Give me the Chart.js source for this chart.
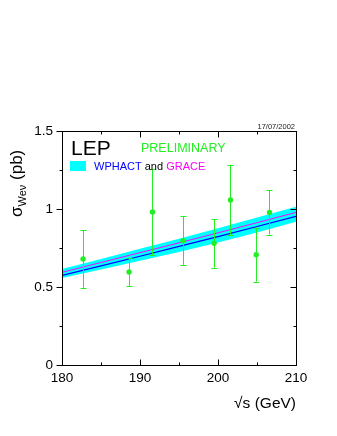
<!DOCTYPE html>
<html>
<head>
<meta charset="utf-8">
<script src="https://cdn.jsdelivr.net/npm/chart.js@4"></script>
<style>
  html, body { margin: 0; padding: 0; background: #fff; }
  #wrap { width: 337px; height: 436px; position: relative; }
</style>
</head>
<body>
<div id="wrap"><canvas id="chart"></canvas></div>
<script>
// LEP combined single-W cross section
const energies = [182.7, 188.6, 191.6, 195.5, 199.5, 201.6, 204.9, 206.6]
const sigma = [0.68, 0.596, 0.981, 0.797, 0.78, 1.058, 0.707, 0.978]
const sigmaErr = [0.185, 0.09, 0.275, 0.155, 0.156, 0.226, 0.173, 0.142]

// theory predictions
const theoryE = [180, 185, 190, 195, 200, 205, 210]
const wphact = [0.574, 0.635, 0.697, 0.76, 0.823, 0.888, 0.953]
const grace = [0.594, 0.657, 0.72, 0.783, 0.847, 0.912, 0.978]
const bandHigh = [0.615, 0.68, 0.745, 0.81, 0.876, 0.945, 1.015]
const bandLow = [0.557, 0.612, 0.668, 0.725, 0.785, 0.85, 0.918]

const xTicks = [180, 190, 200, 210]
const yTicks = [0, 0.5, 1, 1.5]
const yTickLabels = ['0', '0.5', '1', '1.5']

const FONT = "'Liberation Sans', Arial, Helvetica, sans-serif"
const GREEN = '#22ee22'

const pts = (xs, ys) => xs.map((x, i) => ({ x: x, y: ys[i] }))

const errorBars = {
  id: 'errorBars',
  afterDatasetsDraw(chart) {
    const { ctx, scales: { x, y } } = chart
    ctx.save()
    ctx.strokeStyle = GREEN
    ctx.lineWidth = 1
    energies.forEach((e, i) => {
      const px = Math.round(x.getPixelForValue(e)) + 0.5
      const top = y.getPixelForValue(sigma[i] + sigmaErr[i])
      const bot = y.getPixelForValue(sigma[i] - sigmaErr[i])
      ctx.beginPath()
      ctx.moveTo(px, top); ctx.lineTo(px, bot)
      ctx.moveTo(px - 3, Math.round(top) + 0.5); ctx.lineTo(px + 3, Math.round(top) + 0.5)
      ctx.moveTo(px - 3, Math.round(bot) + 0.5); ctx.lineTo(px + 3, Math.round(bot) + 0.5)
      ctx.stroke()
    })
    ctx.restore()
  }
}

const decorations = {
  id: 'decorations',
  afterDraw(chart) {
    const { ctx, chartArea: a, scales: { x, y } } = chart
    ctx.save()
    // frame
    ctx.strokeStyle = '#000'
    ctx.lineWidth = 1
    const L = Math.round(a.left) + 0.5, R = Math.round(a.right) + 0.5
    const T = Math.round(a.top) + 0.5, B = Math.round(a.bottom) + 0.5
    ctx.strokeRect(L, T, R - L, B - T)

    // ticks
    ctx.beginPath()
    for (let v = 180; v <= 210; v += 5) {
      const px = Math.round(x.getPixelForValue(v)) + 0.5
      const len = v % 10 === 0 ? 6 : 3
      ctx.moveTo(px, B); ctx.lineTo(px, B - len)
      ctx.moveTo(px, T); ctx.lineTo(px, T + len)
    }
    for (let v = 0; v <= 1.5001; v += 0.25) {
      const py = Math.round(y.getPixelForValue(v)) + 0.5
      const len = Math.abs(v * 2 - Math.round(v * 2)) < 1e-6 ? 6 : 3
      ctx.moveTo(L, py); ctx.lineTo(L - len, py)
      ctx.moveTo(R, py); ctx.lineTo(R - len, py)
    }
    ctx.stroke()

    // date stamp
    ctx.fillStyle = '#222'
    ctx.font = '7.5px ' + FONT
    ctx.textAlign = 'right'
    ctx.textBaseline = 'alphabetic'
    ctx.fillText('17/07/2002', 295, 129)

    // LEP / PRELIMINARY
    ctx.textAlign = 'left'
    ctx.fillStyle = '#000'
    ctx.font = '21px ' + FONT
    ctx.fillText('LEP', 71, 155)
    ctx.fillStyle = GREEN
    ctx.font = '12.5px ' + FONT
    ctx.fillText('PRELIMINARY', 141, 152)

    // legend
    ctx.fillStyle = '#00ffff'
    ctx.fillRect(70, 161, 16, 10)
    ctx.font = '11px ' + FONT
    let tx = 94
    const parts = [['WPHACT', '#0000ff'], [' and ', '#000'], ['GRACE', '#ff00ff']]
    parts.forEach(([s, c]) => {
      ctx.fillStyle = c
      ctx.fillText(s, tx, 170)
      tx += ctx.measureText(s).width
    })

    // x title
    ctx.fillStyle = '#000'
    ctx.font = '15.5px ' + FONT
    ctx.textAlign = 'right'
    ctx.fillText('\u221As (GeV)', 296, 408)

    // y title, rotated
    ctx.translate(22, 217)
    ctx.rotate(-Math.PI / 2)
    ctx.textAlign = 'left'
    ctx.font = '17px ' + FONT
    ctx.fillText('\u03C3', 0, 0)
    let ox = ctx.measureText('\u03C3').width
    ctx.font = '11px ' + FONT
    ctx.fillText('We\u03BD', ox, 4)
    ox += ctx.measureText('We\u03BD').width
    ctx.font = '17px ' + FONT
    ctx.fillText(' (pb)', ox, 0)
    ctx.restore()
  }
}

new Chart(document.getElementById('chart'), {
  type: 'line',
  data: {
    datasets: [
      {
        label: 'LEP data',
        data: pts(energies, sigma),
        showLine: false,
        pointRadius: 2.7,
        pointBackgroundColor: GREEN,
        pointBorderWidth: 0,
        order: 0
      },
      {
        label: 'GRACE',
        data: pts(theoryE, grace),
        borderColor: '#ff00ff',
        borderWidth: 1,
        pointRadius: 0,
        order: 1
      },
      {
        label: 'WPHACT',
        data: pts(theoryE, wphact),
        borderColor: '#0000ff',
        borderWidth: 1.2,
        pointRadius: 0,
        order: 2
      },
      {
        label: 'band high',
        data: pts(theoryE, bandHigh),
        borderWidth: 0,
        borderColor: 'rgba(0,0,0,0)',
        backgroundColor: '#00ffff',
        pointRadius: 0,
        fill: '+1',
        order: 3
      },
      {
        label: 'band low',
        data: pts(theoryE, bandLow),
        borderWidth: 0,
        borderColor: 'rgba(0,0,0,0)',
        pointRadius: 0,
        fill: false,
        order: 4
      }
    ]
  },
  options: {
    responsive: true,
    maintainAspectRatio: false,
    animation: false,
    layout: { padding: { left: 0, top: 131, right: 41, bottom: 41 } },
    plugins: {
      legend: { display: false },
      tooltip: { enabled: false }
    },
    scales: {
      x: {
        type: 'linear',
        min: 180,
        max: 210,
        afterBuildTicks: s => { s.ticks = xTicks.map(v => ({ value: v })) },
        afterFit: s => { s.height = 30 },
        grid: { display: false, drawTicks: false },
        border: { display: false },
        ticks: { color: '#000', padding: 5, maxRotation: 0, font: { family: FONT, size: 13.5 } }
      },
      y: {
        type: 'linear',
        min: 0,
        max: 1.5,
        afterBuildTicks: s => { s.ticks = yTicks.map(v => ({ value: v })) },
        afterFit: s => { s.width = 62 },
        grid: { display: false, drawTicks: false },
        border: { display: false },
        ticks: {
          color: '#000',
          padding: 9,
          font: { family: FONT, size: 13.5 },
          callback: (v, i) => yTickLabels[yTicks.indexOf(v)] ?? String(v)
        }
      }
    }
  },
  plugins: [errorBars, decorations]
})
</script>
</body>
</html>
